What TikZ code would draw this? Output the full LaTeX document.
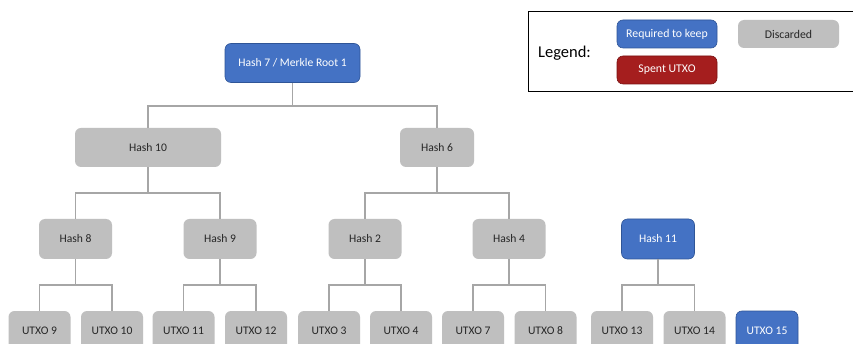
\documentclass[tikz,border=0pt]{standalone}
\usepackage{fontspec}
\setmainfont{Carlito}
\definecolor{keepblue}{HTML}{4472C4}
\definecolor{keepedge}{HTML}{2F5597}
\definecolor{discgray}{HTML}{BFBFBF}
\definecolor{spentred}{HTML}{A51E1E}
\definecolor{spentedge}{HTML}{7A1212}
\definecolor{linegray}{HTML}{A6A6A6}
\definecolor{darktext}{HTML}{262626}
\begin{document}
\begin{tikzpicture}[x=1pt,y=-1pt,
  box/.style={rectangle,rounded corners=6pt,minimum height=39pt,inner sep=0pt,font=\fontsize{11.6}{13}\selectfont},
  keep/.style={box,fill=keepblue,draw=keepedge,line width=0.6pt,text=white},
  disc/.style={box,fill=discgray,text=darktext},
  spent/.style={box,fill=spentred,draw=spentedge,line width=0.6pt,text=white},
  leaf/.style={minimum width=62pt,minimum height=40pt},
  mid/.style={minimum width=73pt,minimum height=40pt},
  legbox/.style={minimum height=28pt,font=\fontsize{11.8}{13}\selectfont},
  conn/.style={draw=linegray,line width=1.7pt}]
\useasboundingbox (0,0) rectangle (853,344);
\clip (0,0) rectangle (853,344);
\fill[white] (0,0) rectangle (853,344);

% legend
\draw[line width=1pt,black] (528,12) rectangle (870,92);
\node[font=\fontsize{16.5}{18}\selectfont,text=black] (leg) at (564.5,53) {Legend:};
\node[keep,legbox,minimum width=100pt] (lk) at (667,34) {Required to keep};
\node[disc,legbox,minimum width=101pt] (ld) at (788.5,34) {Discarded};
\node[spent,legbox,minimum width=100pt] (ls) at (667,70) {Spent UTXO};

% tree nodes
\node[keep,minimum width=135pt] (root) at (292.5,63) {Hash 7 / Merkle Root 1};
\node[disc,minimum width=146pt] (h10) at (148,147.5) {Hash 10};
\node[disc,minimum width=74pt] (h6) at (437,147.5) {Hash 6};
\node[disc,mid] (h8) at (75.5,239) {Hash 8};
\node[disc,mid] (h9) at (220,239) {Hash 9};
\node[disc,mid] (h2) at (365,239) {Hash 2};
\node[disc,mid] (h4) at (509,239) {Hash 4};
\node[keep,mid] (h11) at (658,239) {Hash 11};

\node[disc,leaf] (u9) at (39.5,331) {UTXO 9};
\node[disc,leaf] (u10) at (112,331) {UTXO 10};
\node[disc,leaf] (u11) at (183.5,331) {UTXO 11};
\node[disc,leaf] (u12) at (256,331) {UTXO 12};
\node[disc,leaf] (u3) at (329,331) {UTXO 3};
\node[disc,leaf] (u4) at (401,331) {UTXO 4};
\node[disc,leaf] (u7) at (473,331) {UTXO 7};
\node[disc,leaf] (u8) at (545.5,331) {UTXO 8};
\node[disc,leaf] (u13) at (622,331) {UTXO 13};
\node[disc,leaf] (u14) at (694.5,331) {UTXO 14};
\node[keep,leaf] (u15) at (767,331) {UTXO 15};

% bar levels
\coordinate (b1) at (0,106);
\coordinate (b2) at (0,193);
\coordinate (b3) at (0,285);

% connectors
\draw[conn] (root.south) -- (root.south |- b1);
\draw[conn] (h10.north) -- (h10.north |- b1) -- (h6.north |- b1) -- (h6.north);

\draw[conn] (h10.south) -- (h10.south |- b2);
\draw[conn] (h8.north) -- (h8.north |- b2) -- (h9.north |- b2) -- (h9.north);
\draw[conn] (h6.south) -- (h6.south |- b2);
\draw[conn] (h2.north) -- (h2.north |- b2) -- (h4.north |- b2) -- (h4.north);

\foreach \p/\a/\b in {h8/u9/u10, h9/u11/u12, h2/u3/u4, h4/u7/u8, h11/u13/u14} {
  \draw[conn] (\p.south) -- (\p.south |- b3);
  \draw[conn] (\a.north) -- (\a.north |- b3) -- (\b.north |- b3) -- (\b.north);
}
\end{tikzpicture}
\end{document}
